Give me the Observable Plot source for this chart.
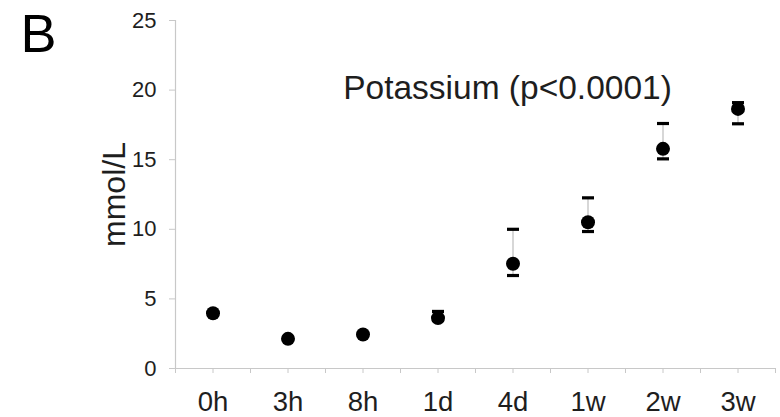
<!DOCTYPE html>
<html>
<head>
<meta charset="utf-8">
<script src="https://cdn.jsdelivr.net/npm/d3@7"></script>
<script src="https://cdn.jsdelivr.net/npm/@observablehq/plot@0.6"></script>
<style>
  html, body { margin: 0; padding: 0; background: #fff; }
  #chart svg { display: block; }
</style>
</head>
<body>
<div id="chart"></div>
<script>
// Time points (categories)
const times = ["0h", "3h", "8h", "1d", "4d", "1w", "2w", "3w"];
// Mean potassium (mmol/L)
const means = [3.97, 2.13, 2.44, 3.62, 7.52, 10.51, 15.78, 18.65];
// Error bar lower / upper ends
const lowers = [3.85, 2.02, 2.33, 3.45, 6.68, 9.84, 15.06, 17.58];
const uppers = [4.08, 2.24, 2.55, 4.10, 10.0, 12.26, 17.6, 19.1];
// Axis ticks
const yTicks = [0, 5, 10, 15, 20, 25];
const panelLabel = "B";
const titleText = "Potassium (p<0.0001)";
const yLabel = "mmol/L";

const data = times.map((t, i) => ({t, i, mean: means[i], low: lowers[i], high: uppers[i]}));
const idx = times.map((t, i) => i);
const bounds = [...idx.map(i => i - 0.5), times.length - 0.5];

const grey = "#c8c8c8";
const txt = "#1e1e1e";
const capSymbol = { draw(ctx) { ctx.rect(-6, -1.6, 12, 3.2); } };

const chart = Plot.plot({
  width: 780,
  height: 417,
  marginLeft: 175,
  marginRight: 5,
  marginTop: 20,
  marginBottom: 49,
  style: { fontFamily: "'Liberation Sans', Arial, sans-serif", background: "#fff", overflow: "visible" },
  x: { type: "linear", domain: [-0.5, times.length - 0.5] },
  y: { domain: [0, 25] },
  marks: [
    // axis lines
    Plot.ruleX([-0.5], { y1: 0, y2: 25, stroke: grey, strokeWidth: 1.2 }),
    Plot.ruleY([0], { stroke: grey, strokeWidth: 1.2 }),
    // y axis
    Plot.axisY({ ticks: yTicks, tickSize: 6, tickPadding: 13, stroke: grey, color: txt, fontSize: 22, label: null }),
    // x axis: ticks at categories with labels
    Plot.axisX({ ticks: idx, tickFormat: i => times[i], tickSize: 5, tickPadding: 18, stroke: grey, color: txt, fontSize: 27.5, label: null }),
    // x axis: boundary ticks
    Plot.axisX({ ticks: bounds, tickFormat: () => "", tickSize: 5, stroke: grey, label: null }),
    // whiskers
    Plot.ruleX(data, { x: "i", y1: "low", y2: "high", stroke: "#bdbdbd", strokeWidth: 1.2 }),
    // caps
    Plot.dot(data, { x: "i", y: "low", symbol: capSymbol, fill: "#000", stroke: null }),
    Plot.dot(data, { x: "i", y: "high", symbol: capSymbol, fill: "#000", stroke: null }),
    // means
    Plot.dot(data, { x: "i", y: "mean", r: 7, fill: "#000", stroke: null }),
    // y label
    Plot.text([yLabel], { frameAnchor: "left", rotate: -90, dx: -61, fontSize: 32, fill: txt, textAnchor: "middle", lineAnchor: "middle" }),
    // title
    Plot.text([titleText], { frameAnchor: "top", dx: 32, dy: 55, fontSize: 33.5, fill: txt, textAnchor: "middle", lineAnchor: "top", letterSpacing: "0.3px" }),
    // panel letter
    Plot.text([panelLabel], { frameAnchor: "top-left", dx: -155, dy: -7, fontSize: 54, fill: "#000", textAnchor: "start", lineAnchor: "top" })
  ]
});
document.getElementById("chart").appendChild(chart);
</script>
</body>
</html>
